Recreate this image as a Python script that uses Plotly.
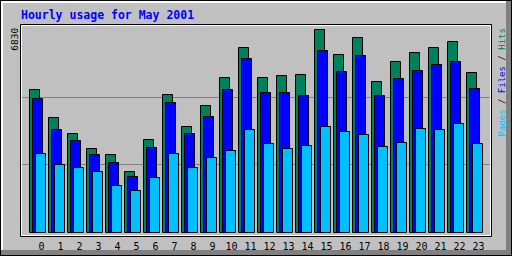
import plotly.graph_objects as go

hours = list(range(24))
hour_labels = [str(h) for h in hours]
hits = [4778, 3836, 3331, 2793, 2591, 2019, 3129, 4643, 3566, 4273, 5215, 6224,
        5215, 5282, 5316, 6830, 5989, 6561, 5080, 5753, 6056, 6224, 6393, 5350]
files = [4475, 3465, 3062, 2591, 2355, 1884, 2860, 4374, 3331, 3903, 4811, 5821,
         4710, 4710, 4609, 6123, 5417, 5955, 4576, 5181, 5450, 5619, 5753, 4845]
pages = [2658, 2288, 2187, 2019, 1548, 1413, 1850, 2658, 2187, 2490, 2759, 3465,
         2961, 2826, 2927, 3533, 3398, 3297, 2893, 3028, 3499, 3465, 3634, 2994]
max_label = "6830"
ymax = 6830
title = "Hourly usage for May 2001"

C_HITS = "#00805C"
C_FILES = "#0000FF"
C_PAGES = "#00C0FF"
GREY = "#C0C0C0"
DKGREY = "#808080"

W, H = 512, 256
L, R, T, B = 20, 491, 25, 235


def px(x):
    return (x - L) / (R - L)


def py(y):
    return (B - y) / (B - T)


k = ymax / 203.0
yr = [-(B - 232.5) * k, (232.5 - T) * k]
unit = 19.0
xr = [(L - 41.5) / unit, (R - 41.5) / unit]

fig = go.Figure()
for vals, col, off in [(hits, C_HITS, -12), (files, C_FILES, -9), (pages, C_PAGES, -6)]:
    fig.add_trace(go.Bar(
        x=hours, y=vals, offset=off / unit, width=10 / unit,
        marker=dict(color=col, line=dict(color="black", width=1)),
        hoverinfo="skip", showlegend=False))

shapes = []
# outer frame
shapes.append(dict(type="rect", xref="paper", yref="paper", x0=px(0), x1=px(512), y0=py(0), y1=py(256),
                   fillcolor="black", line=dict(width=0), layer="below"))
shapes.append(dict(type="rect", xref="paper", yref="paper", x0=px(1), x1=px(511), y0=py(1), y1=py(255),
                   fillcolor=DKGREY, line=dict(width=0), layer="below"))
shapes.append(dict(type="rect", xref="paper", yref="paper", x0=px(1), x1=px(506), y0=py(1), y1=py(250),
                   fillcolor="white", line=dict(width=0), layer="below"))
shapes.append(dict(type="rect", xref="paper", yref="paper", x0=px(3), x1=px(506), y0=py(3), y1=py(250),
                   fillcolor=GREY, line=dict(width=0), layer="below"))
# plot frame
shapes.append(dict(type="rect", xref="paper", yref="paper", x0=px(20.5), x1=px(491.5), y0=py(24.5), y1=py(236.5),
                   line=dict(color="black", width=1)))
shapes.append(dict(type="rect", xref="paper", yref="paper", x0=px(21.5), x1=px(490.5), y0=py(25.5), y1=py(235.5),
                   line=dict(color="white", width=1)))

mono = "DejaVu Sans Mono"
annotations = [
    dict(text="<b>" + title + "</b>", xref="paper", yref="paper", x=px(19), y=py(15.5),
         xanchor="left", yanchor="middle", showarrow=False,
         font=dict(family=mono, size=11.5, color="#0000FF")),
    dict(text=max_label, xref="paper", yref="paper", x=px(15), y=py(39.7),
         xanchor="center", yanchor="middle", showarrow=False, textangle=-90,
         font=dict(family=mono, size=9.5, color="black")),
    dict(text=("<span style='color:%s'>Pages</span> / <span style='color:%s'>Files</span>"
               " / <span style='color:%s'>Hits</span>") % (C_PAGES, C_FILES, C_HITS),
         xref="paper", yref="paper", x=px(501.5), y=py(83), xanchor="center", yanchor="middle",
         showarrow=False, textangle=-90, font=dict(family=mono, size=9, color="black")),
]

fig.update_layout(
    width=W, height=H, margin=dict(l=L, r=W - R, t=T, b=H - B, pad=0, autoexpand=False),
    paper_bgcolor=GREY, plot_bgcolor=GREY, barmode="overlay", bargap=0,
    shapes=shapes, annotations=annotations,
    xaxis=dict(range=xr, tickvals=hours, ticktext=hour_labels, showgrid=False, zeroline=False,
               ticks="", showline=False, tickfont=dict(family=mono, size=10, color="black"),
               fixedrange=True, automargin=False, ticklabelstandoff=4),
    yaxis=dict(range=yr, tickvals=[ymax / 3, 2 * ymax / 3], showticklabels=False, showgrid=True,
               gridcolor=DKGREY, gridwidth=1, zeroline=False, ticks="", showline=False,
               fixedrange=True, automargin=False),
)

fig.write_html("out.html", config={"displayModeBar": False})
